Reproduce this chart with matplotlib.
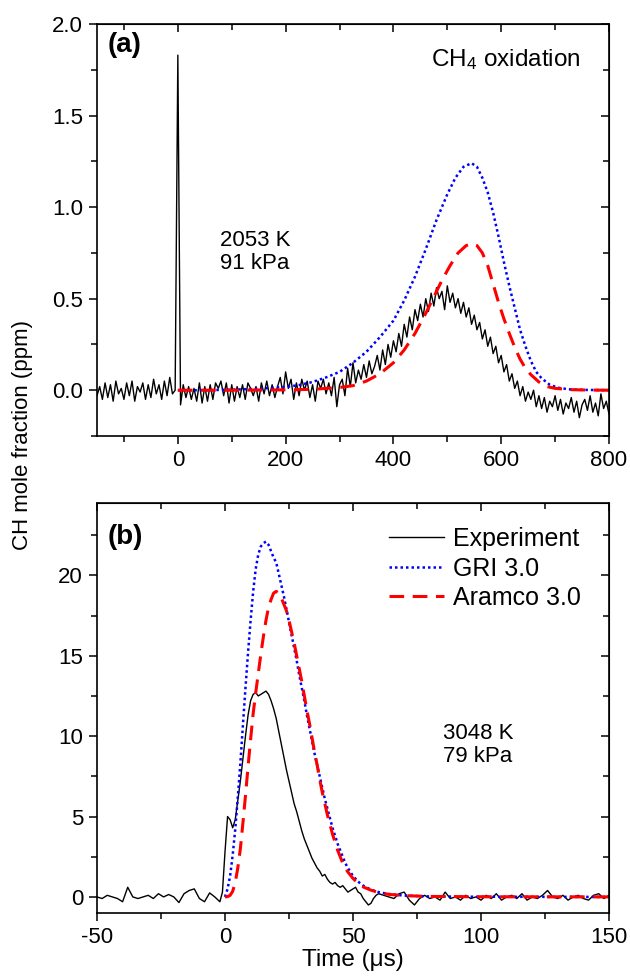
import numpy as np
import matplotlib
matplotlib.use("Agg")
import matplotlib.pyplot as plt
from matplotlib.ticker import MultipleLocator, FormatStrFormatter

plt.rcParams['font.family'] = ['Liberation Sans', 'DejaVu Sans']
plt.rcParams['mathtext.fontset'] = 'custom'
plt.rcParams['mathtext.rm'] = 'Liberation Sans'
plt.rcParams['mathtext.default'] = 'regular'
plt.rcParams['axes.unicode_minus'] = False

# ---------------- Panel (a): CH4 oxidation, 2053 K, 91 kPa ----------------
time_a_exp = np.arange(-150, 801, 5)
ch_a_exp = [
    # -150 .. -5
    -0.03, 0.02, -0.05, 0.04, -0.04, 0.03, -0.06, 0.05, -0.02, 0.01,
    -0.05, 0.04, -0.03, 0.05, -0.06, 0.02, -0.01, 0.04, -0.05, 0.03,
    -0.04, 0.06, -0.02, 0.03, -0.05, 0.05, -0.03, 0.07, -0.02, 0.00,
    # 0
    1.83,
    # 5 .. 300
    -0.08, 0.03, -0.04, 0.02, -0.05, 0.01, -0.06, 0.04, -0.07, 0.02,
    -0.06, 0.03, -0.05, 0.04, 0.01, 0.05, -0.03, 0.04, -0.07, 0.03,
    -0.06, 0.02, -0.04, 0.03, -0.05, 0.04, 0.01, -0.03, 0.02, -0.06,
    0.04, -0.02, 0.05, -0.03, 0.03, -0.04, 0.02, 0.07, -0.02, 0.10,
    0.01, 0.06, -0.05, 0.04, -0.03, 0.06, 0.00, 0.05, -0.04, 0.03,
    -0.06, 0.05, 0.01, 0.06, -0.02, 0.04, -0.03, 0.07, -0.09, 0.03,
    # 305 .. 500
    0.06, -0.03, 0.12, 0.02, 0.15, 0.04, 0.11, 0.06, 0.14, 0.07,
    0.16, 0.09, 0.13, 0.19, 0.11, 0.22, 0.14, 0.25, 0.18, 0.27,
    0.21, 0.31, 0.24, 0.36, 0.29, 0.40, 0.33, 0.44, 0.38, 0.47,
    0.40, 0.50, 0.43, 0.53, 0.46, 0.56, 0.50, 0.54, 0.44, 0.57,
    # 505 .. 650
    0.48, 0.53, 0.45, 0.50, 0.42, 0.48, 0.40, 0.45, 0.36, 0.41,
    0.33, 0.37, 0.28, 0.33, 0.24, 0.29, 0.20, 0.24, 0.15, 0.19,
    0.10, 0.14, 0.05, 0.09, 0.01, 0.05, -0.03, 0.02, -0.06, -0.01,
    # 655 .. 800
    -0.05, 0.00, -0.09, -0.03, -0.10, -0.04, -0.12, -0.06, -0.09, -0.03,
    -0.11, -0.05, -0.13, -0.07, -0.10, -0.04, -0.12, -0.06, -0.15, -0.08,
    -0.05, -0.11, -0.03, -0.12, -0.07, -0.14, -0.02, -0.10, -0.06, -0.13,
]

time_a_gri = [0, 50, 100, 150, 200, 225, 250, 275, 300, 325, 350, 375, 400,
              420, 440, 460, 480, 500, 515, 530, 545, 555, 565, 575, 585,
              595, 605, 615, 625, 635, 645, 655, 665, 675, 690, 705, 725,
              750, 800]
ch_a_gri = [0.0, 0.0, 0.003, 0.008, 0.018, 0.028, 0.045, 0.07, 0.10, 0.15,
            0.21, 0.29, 0.38, 0.49, 0.62, 0.77, 0.93, 1.07, 1.16, 1.22, 1.24,
            1.22, 1.16, 1.08, 0.97, 0.84, 0.70, 0.57, 0.45, 0.33, 0.24, 0.16,
            0.10, 0.065, 0.03, 0.014, 0.005, 0.002, 0.0]

time_a_aramco = [0, 100, 200, 250, 300, 325, 350, 375, 400, 420, 440, 460,
                 475, 490, 505, 520, 535, 545, 555, 565, 575, 585, 595, 605,
                 615, 625, 635, 645, 655, 670, 685, 700, 730, 760, 800]
ch_a_aramco = [0.0, 0.0, 0.002, 0.005, 0.015, 0.025, 0.05, 0.09, 0.15, 0.22,
               0.31, 0.42, 0.51, 0.60, 0.68, 0.75, 0.79, 0.80, 0.79, 0.75,
               0.68, 0.58, 0.48, 0.39, 0.31, 0.235, 0.17, 0.12, 0.085, 0.045,
               0.02, 0.01, 0.003, 0.001, 0.0]

# ---------------- Panel (b): 3048 K, 79 kPa ----------------
time_b_exp = ([-50, -48, -46, -44, -42, -40, -38, -36, -34, -32, -30, -28, -26,
               -24, -22, -20, -18, -16, -14, -12, -10, -8, -6, -4, -2]
              + list(range(-1, 61))
              + list(range(62, 151, 2)))
ch_b_exp = [
    # -50 .. -2 (step 2)
    0.0, -0.1, 0.1, 0.0, -0.1, -0.3, 0.6, 0.0, -0.1, 0.0, 0.1, -0.1, 0.2,
    0.0, 0.15, 0.0, -0.35, 0.2, 0.4, 0.5, -0.1, -0.3, 0.25, 0.0, -0.3,
    # -1 .. 60 (step 1)
    0.3, 2.8, 5.0, 4.8, 4.3, 4.8, 6.0, 7.2, 8.6, 10.0, 11.3, 12.2, 12.6,
    12.7, 12.5, 12.6, 12.7, 12.8, 12.6, 12.2, 11.7, 11.1, 10.3, 9.5, 8.7,
    7.9, 7.2, 6.5, 5.8, 5.3, 4.7, 4.1, 3.6, 3.2, 2.8, 2.4, 2.1, 1.8, 1.6,
    1.3, 1.4, 1.1, 0.9, 0.8, 0.9, 0.7, 0.6, 0.7, 0.5, 0.3, 0.4, 0.5, 0.6,
    0.3, 0.2, -0.1, -0.3, -0.5, -0.4, -0.1, 0.1, 0.2,
    # 62 .. 150 (step 2)
    0.1, 0.0, -0.1, 0.2, 0.3, -0.2, -0.5, -0.1, 0.1, -0.1, 0.0, -0.2, 0.3,
    -0.1, 0.0, -0.2, 0.1, -0.1, 0.0, -0.2, 0.1, -0.1, 0.2, -0.2, 0.0, 0.1,
    -0.1, 0.2, -0.2, 0.0, -0.1, 0.1, 0.4, 0.0, -0.1, 0.1, -0.2, 0.0, 0.1,
    -0.1, -0.2, 0.1, 0.2, -0.1, 0.1,
]

time_b_gri = (list(range(0, 49)) + [50, 52, 54, 57, 60, 64, 70, 80, 100, 150])
ch_b_gri = [0.0, 0.5, 1.3, 2.6, 4.2, 6.2, 8.3, 10.7, 13.0, 15.2, 17.2, 19.0,
            20.4, 21.3, 21.8, 22.0, 22.1, 21.9, 21.5, 21.1, 20.8, 20.1, 19.4,
            18.7, 17.9, 17.1, 16.3, 15.5, 14.7, 13.8, 13.0, 12.2, 11.3, 10.5,
            9.7, 8.9, 8.2, 7.5, 6.8, 6.1, 5.5, 4.9, 4.3, 3.8, 3.3, 2.9, 2.5,
            2.1, 1.8,
            1.3, 0.95, 0.7, 0.45, 0.3, 0.18, 0.08, 0.03, 0.01, 0.0]

time_b_aramco = (list(range(0, 49)) + [50, 52, 54, 57, 60, 64, 70, 80, 100, 150])
ch_b_aramco = [0.0, 0.02, 0.1, 0.35, 0.9, 1.8, 3.0, 4.6, 6.3, 8.1, 9.8, 11.4,
               12.7, 13.9, 15.1, 16.2, 17.2, 18.0, 18.5, 18.9, 19.0, 18.9,
               18.6, 18.2, 17.8, 17.2, 16.5, 15.8, 15.0, 14.2, 13.4, 12.5,
               11.6, 10.8, 9.9, 9.0, 8.2, 7.3, 6.5, 5.8, 5.1, 4.5, 3.9, 3.4,
               2.9, 2.5, 2.1, 1.8, 1.55,
               1.15, 0.85, 0.62, 0.42, 0.28, 0.16, 0.08, 0.03, 0.01, 0.0]

legend_labels = ["Experiment", "GRI 3.0", "Aramco 3.0"]

# ---------------- Figure ----------------
W, H = 630, 980
fig = plt.figure(figsize=(W / 100, H / 100), dpi=100)
fig.patch.set_facecolor('white')

ax1 = fig.add_axes([97 / W, 1 - 436 / H, 512 / W, 412 / H])
ax2 = fig.add_axes([97 / W, 1 - 913 / H, 512 / W, 410 / H])

exp_kw = dict(color='black', lw=1.0)
gri_kw = dict(color='#0000FF', lw=1.8, linestyle=(0, (1, 1.2)))
ara_kw = dict(color='#FF0000', lw=2.2, linestyle=(0, (4.8, 2.8)))

ax1.plot(time_a_exp, ch_a_exp, **exp_kw)
ax1.plot(time_a_gri, ch_a_gri, **gri_kw)
ax1.plot(time_a_aramco, ch_a_aramco, **ara_kw)

l1, = ax2.plot(time_b_exp, ch_b_exp, **exp_kw)
l2, = ax2.plot(time_b_gri, ch_b_gri, **gri_kw)
l3, = ax2.plot(time_b_aramco, ch_b_aramco, **ara_kw)

ax1.set_xlim(-150, 800)
ax1.set_ylim(-0.25, 2.0)
ax1.xaxis.set_major_locator(MultipleLocator(200))
ax1.xaxis.set_minor_locator(MultipleLocator(100))
ax1.yaxis.set_major_locator(MultipleLocator(0.5))
ax1.yaxis.set_minor_locator(MultipleLocator(0.25))
ax1.yaxis.set_major_formatter(FormatStrFormatter('%.1f'))

ax2.set_xlim(-50, 150)
ax2.set_ylim(-1, 24.5)
ax2.xaxis.set_major_locator(MultipleLocator(50))
ax2.xaxis.set_minor_locator(MultipleLocator(25))
ax2.yaxis.set_major_locator(MultipleLocator(5))
ax2.yaxis.set_minor_locator(MultipleLocator(2.5))

for ax, xmaj, xmin, ymaj, ymin in [(ax1, 200, 100, 0.5, 0.25), (ax2, 50, 25, 5, 2.5)]:
    for s in ax.spines.values():
        s.set_linewidth(1.2)
    ax.tick_params(which='both', direction='out', labelsize=16, width=1.1,
                   top=False, right=False, pad=4)
    ax.tick_params(which='major', length=6)
    ax.tick_params(which='minor', length=4)
    sx = ax.secondary_xaxis('top')
    sx.xaxis.set_major_locator(MultipleLocator(xmaj))
    sx.xaxis.set_minor_locator(MultipleLocator(xmin))
    sx.tick_params(which='both', direction='in', labeltop=False, width=1.1)
    sx.tick_params(which='major', length=6)
    sx.tick_params(which='minor', length=4)
    sy = ax.secondary_yaxis('right')
    sy.yaxis.set_major_locator(MultipleLocator(ymaj))
    sy.yaxis.set_minor_locator(MultipleLocator(ymin))
    sy.tick_params(which='both', direction='in', labelright=False, width=1.1)
    sy.tick_params(which='major', length=6)
    sy.tick_params(which='minor', length=4)

# Annotations
ax1.text(0.02, 0.949, '(a)', transform=ax1.transAxes, fontsize=20,
         fontweight='bold', va='center', ha='left')
ax1.text(0.945, 0.913, 'CH$_4$ oxidation', transform=ax1.transAxes,
         fontsize=17.5, va='center', ha='right')
ax1.text(0.24, 0.447, '2053 K\n91 kPa', transform=ax1.transAxes,
         fontsize=16, va='center', ha='left', linespacing=1.15)

ax2.text(0.02, 0.917, '(b)', transform=ax2.transAxes, fontsize=20,
         fontweight='bold', va='center', ha='left')
ax2.text(0.676, 0.41, '3048 K\n79 kPa', transform=ax2.transAxes,
         fontsize=16, va='center', ha='left', linespacing=1.15)

ax2.legend([l1, l2, l3], legend_labels, loc='upper left',
           bbox_to_anchor=((389 - 97) / 512, (913 - 527) / 410),
           frameon=False, fontsize=18, handlelength=2.2, handletextpad=0.35,
           labelspacing=0.22, borderpad=0, borderaxespad=0)

ax2.set_xlabel('Time (\u03bcs)', fontsize=17.5, labelpad=1)
fig.text(0.036, 0.556, 'CH mole fraction (ppm)', rotation=90, fontsize=16,
         va='center', ha='center')

fig.savefig('out.png', dpi=100)
